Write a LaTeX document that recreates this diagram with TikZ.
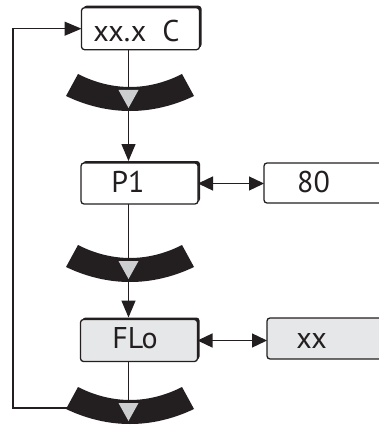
\documentclass[tikz,border=0pt]{standalone}
\usepackage{fontspec}
\setmainfont{PT Sans}
\usetikzlibrary{arrows.meta,shadows}
\definecolor{ink}{HTML}{231F20}
\definecolor{boxgray}{HTML}{E6E7E8}
\definecolor{trigray}{HTML}{CDCED0}
\begin{document}
\begin{tikzpicture}[x=1pt,y=-1pt,
  conn/.style={draw=ink, line width=1.3pt},
  tip/.style={-{Triangle[length=17pt,width=14pt]}},
  dtip/.style={{Triangle[length=15pt,width=14pt]}-{Triangle[length=15pt,width=14pt]}},
  box/.style={draw=ink, line width=1.3pt, rounded corners=3pt, fill=white,
    inner sep=0pt, outer sep=0pt},
  shbox/.style={box, general shadow={fill=ink, shadow xshift=2pt, shadow yshift=2pt}},
  lbl/.style={anchor=base, inner sep=0pt, font=\fontsize{30}{36}\selectfont, text=ink},
  bandpic/.pic={
    \fill[ink] (-52,-13) .. controls (-18,4.3) and (18,4.3) .. (52,-13)
      -- (64,9) .. controls (22,29) and (-22,29) .. (-64,9) -- cycle;
    \fill[trigray] (-11.5,3) -- (8.5,3) -- (-1.5,21) -- cycle;
  }]
\clip (0,0) rectangle (379,425);
% boxes
\node[shbox, minimum width=118pt, minimum height=42pt] (b1) at (140.5,28.7) {};
\node[shbox, minimum width=117pt, minimum height=41pt] (p1) at (139.5,183.5) {};
\node[box, minimum width=136pt, minimum height=40pt] (v80) at (332,183) {};
\node[shbox, fill=boxgray, minimum width=117pt, minimum height=42pt] (flo) at (139,340.5) {};
\node[box, fill=boxgray, minimum width=133pt, minimum height=41pt] (vxx) at (333.5,338.5) {};
% labels
\node[lbl] (t1) at (136.5,42) {xx.x\hspace{16pt}C};
\node[lbl] (t2) at (128,192.5) {P1};
\node[lbl] (t3) at (313.5,192.5) {80};
\node[lbl] (t4) at (135,348) {FLo};
\node[lbl] (t5) at (311.5,348) {xx};
% helper coordinates
\coordinate (v) at (128.5,0);
\coordinate (loopend) at (70,408);
\coordinate (corner1) at (13,408);
\coordinate (corner2) at (13,28.7);
\coordinate (band3) at (128.5,404);
% connectors
\draw[conn, tip, shorten >=2pt] (v |- b1.south) -- (v |- p1.north);
\draw[conn, tip, shorten >=2pt] (v |- p1.south) -- (v |- flo.north);
\draw[conn] (v |- flo.south) -- (band3);
\draw[conn, tip] (loopend) -- (corner1) -- (corner2) -- (b1.west);
\draw[conn, dtip] (p1.east) -- (p1.east -| v80.west);
\draw[conn, dtip] (flo.east) -- (flo.east -| vxx.west);
% bands
\pic at (130,87) {bandpic};
\pic at (130,258) {bandpic};
\pic at (130,400) {bandpic};
\end{tikzpicture}
\end{document}
